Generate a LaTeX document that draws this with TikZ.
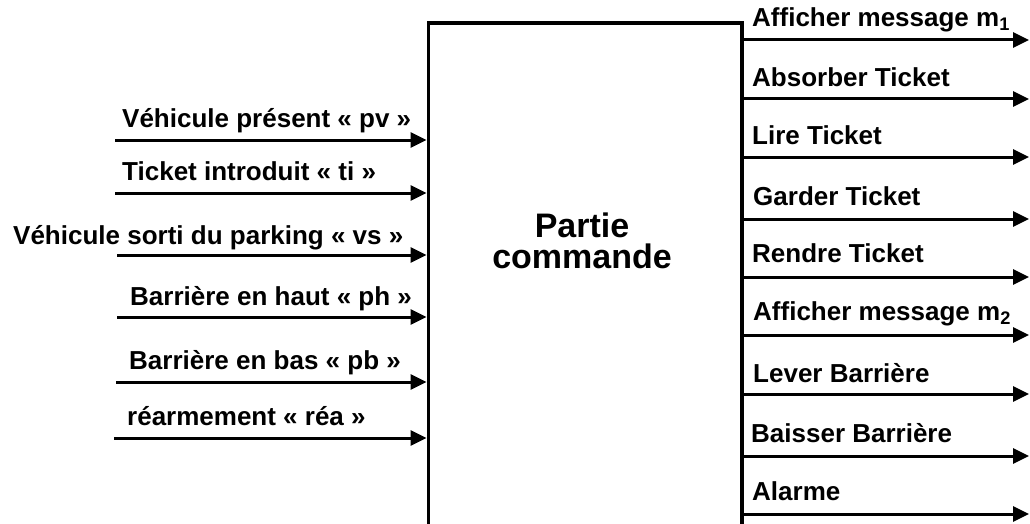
\documentclass[tikz,border=0pt]{standalone}
\usepackage{fontspec}
\setmainfont{Liberation Sans}
\usetikzlibrary{arrows.meta}
\begin{document}
\begin{tikzpicture}[x=1pt,y=-1pt,
  lbl/.style={font=\fontsize{26}{30}\selectfont\bfseries, inner sep=0pt, anchor=base west},
  sig/.style={line width=3pt, -{Triangle[length=16pt,width=15pt]}},
  insig/.style={sig, shorten >=2pt},
  boxstyle/.style={draw, line width=3.5pt, outer sep=0pt, inner sep=0pt,
    minimum width=313.5pt, minimum height=540pt, anchor=north west},
  titlestyle/.style={font=\fontsize{34}{31}\selectfont\bfseries, align=center}
  ]
\useasboundingbox (0,0) rectangle (1030,524);
\clip (0,0) rectangle (1030,524);
\node[boxstyle] (pc) at (428.5,23) {};
\node[titlestyle] (title) at (582,241) {Partie\\commande};

% inputs
\coordinate (i1) at (115,140);
\coordinate (i2) at (115,193);
\coordinate (i3) at (117,255);
\coordinate (i4) at (117,317);
\coordinate (i5) at (116,382);
\coordinate (i6) at (114,438);
\foreach \c in {i1,i2,i3,i4,i5,i6} \draw[insig] (\c) -- (\c -| pc.west);

\node[lbl] (l1) at (122,128) {Véhicule présent « pv »};
\node[lbl] (l2) at (122,180) {Ticket introduit « ti »};
\node[lbl] (l3) at (13,244) {Véhicule sorti du parking « vs »};
\node[lbl] (l4) at (130,305) {Barrière en haut « ph »};
\node[lbl] (l5) at (129,369) {Barrière en bas « pb »};
\node[lbl] (l6) at (127,425) {réarmement « réa »};

% outputs
\coordinate (o1) at (1029,40);
\coordinate (o2) at (1029,99);
\coordinate (o3) at (1029,157);
\coordinate (o4) at (1029,219);
\coordinate (o5) at (1029,277);
\coordinate (o6) at (1029,335);
\coordinate (o7) at (1029,394);
\coordinate (o8) at (1029,456);
\coordinate (o9) at (1029,514);
\foreach \c in {o1,o2,o3,o4,o5,o6,o7,o8,o9} \draw[sig] (\c -| pc.east) -- (\c);

\node[lbl] (r1) at (752,27) {Afficher message m\textsubscript{1}};
\node[lbl] (r2) at (752,87) {Absorber Ticket};
\node[lbl] (r3) at (752,145) {Lire Ticket};
\node[lbl] (r4) at (753,205) {Garder Ticket};
\node[lbl] (r5) at (752,262) {Rendre Ticket};
\node[lbl] (r6) at (753,320) {Afficher message m\textsubscript{2}};
\node[lbl] (r7) at (753,382) {Lever Barrière};
\node[lbl] (r8) at (751,442) {Baisser Barrière};
\node[lbl] (r9) at (752,500) {Alarme};
\end{tikzpicture}
\end{document}
